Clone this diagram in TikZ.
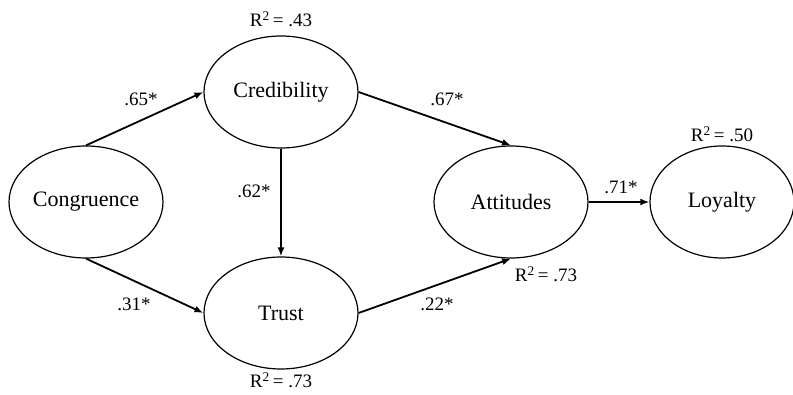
\documentclass[tikz,border=0pt]{standalone}
\usepackage{fontspec}
\setmainfont{Liberation Serif}
\usetikzlibrary{shapes.geometric,arrows.meta}
\begin{document}
\begin{tikzpicture}[x=1pt,y=-1pt,
  construct/.style={ellipse,draw,line width=1.2pt,minimum width=154pt,minimum height=112pt,inner sep=0pt,font=\fontsize{22}{24}\selectfont},
  path/.style={line width=1.8pt,-{Latex[length=9pt,width=7pt]}},
  coef/.style={font=\fontsize{19}{21}\selectfont,inner sep=1pt},
  rsq/.style={font=\fontsize{19}{21}\selectfont,inner sep=1pt}]
\useasboundingbox (0,0) rectangle (793,395);
\node[construct] (cong) at (86,202) {Congruence};
\node[construct] (cred) at (281,92) {Credibility};
\node[construct] (trust) at (281,313) {Trust};
\node[construct] (att) at (511,202) {Attitudes};
\node[construct,minimum width=144pt] (loy) at (722,202) {Loyalty};
\draw[path] (cong.north) -- (cred.west);
\draw[path] (cong.south) -- (trust.west);
\draw[path] (cred.east) -- (att.north);
\draw[path] (trust.east) -- (att.south);
\draw[path] (cred.south) -- (trust.north);
\draw[path] (att.east) -- (loy.west);
\node[coef] (c1) at (141,99) {.65*};
\node[coef] (c2) at (134,304) {.31*};
\node[coef] (c3) at (447,99) {.67*};
\node[coef] (c4) at (437,304) {.22*};
\node[coef] (c5) at (254,191) {.62*};
\node[coef] (c6) at (621,187) {.71*};
\node[rsq] (r1) at (281,19) {R\textsuperscript{2}\,= .43};
\node[rsq] (r2) at (281,380) {R\textsuperscript{2}\,= .73};
\node[rsq] (r3) at (546,274) {R\textsuperscript{2}\,= .73};
\node[rsq] (r4) at (722,134) {R\textsuperscript{2}\,= .50};
\end{tikzpicture}
\end{document}
